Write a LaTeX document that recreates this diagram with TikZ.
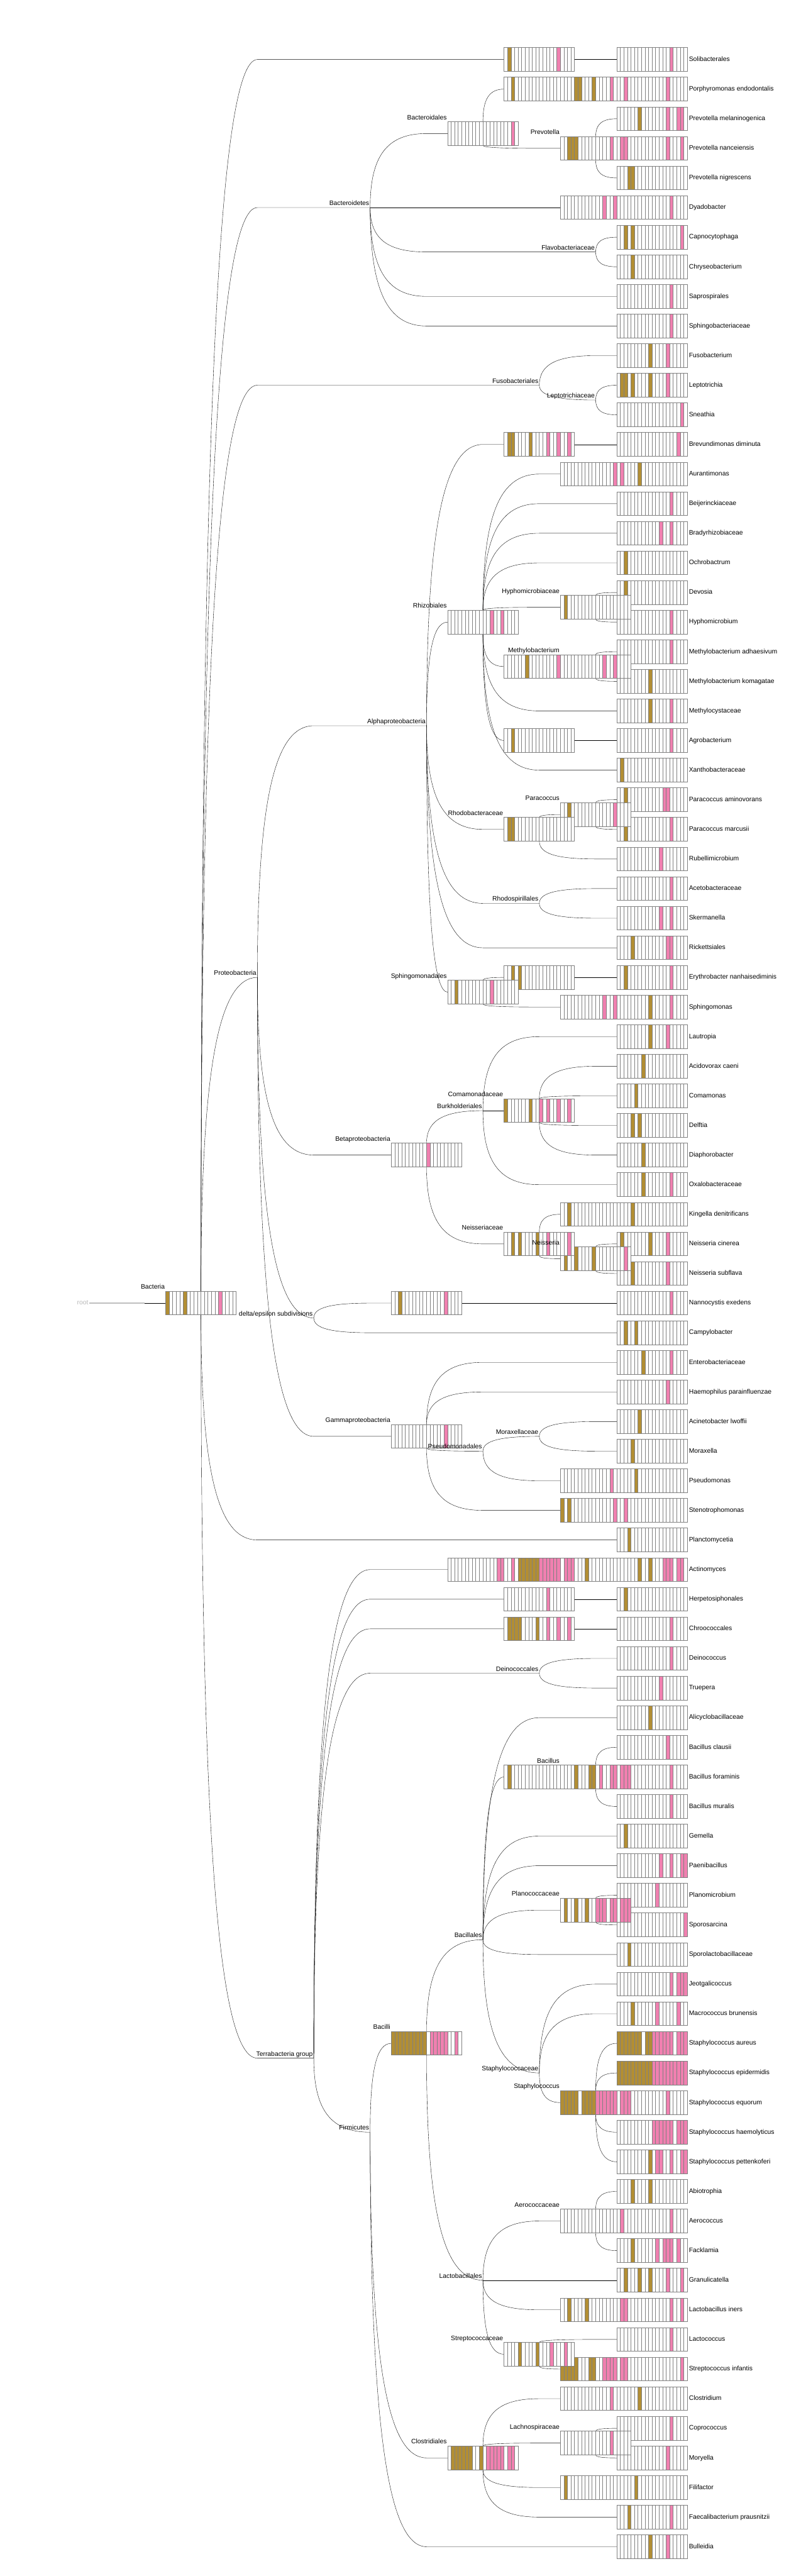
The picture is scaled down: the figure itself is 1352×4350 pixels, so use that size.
\documentclass[tikz,border=0pt]{standalone}
\usepackage{fontspec}
\setmainfont{Liberation Sans}
\usepackage{xcolor}
\definecolor{gd}{RGB}{178,142,52}
\definecolor{pk}{RGB}{240,128,176}
\definecolor{boxgray}{RGB}{128,128,128}
\usepackage{tikz}
\usetikzlibrary{calc,backgrounds}
\newcommand{\hmcells}{white/0}

\begin{document}
\begin{tikzpicture}[
    x=1pt, y=-1pt,
    font=\fontsize{11}{13}\selectfont,
    lbl/.style={inner sep=1.5pt, text height=8pt, text depth=2pt},
    tiplbl/.style={inner sep=2.5pt, text height=8pt, text depth=2pt},
    cells/.code={\def\hmcells{#1}},
    hm/.style={draw=boxgray, line width=0.9pt, fill=white, minimum width=119.06pt, minimum height=40pt, inner sep=0pt, outer sep=0pt,
      path picture={
        \foreach \c/\k in \hmcells {\fill[fill=\c] ([xshift=\k*5.953pt]path picture bounding box.north west) rectangle ++(5.953pt,-40pt);}
        \foreach \k in {1,...,19} {\draw[boxgray, line width=0.9pt] ([xshift=\k*5.953pt]path picture bounding box.north west) -- ++(0pt,-40pt);}
      }},
    clade/.style={to path={let \p1=(\tikztostart), \p2=(\tikztotarget) in .. controls ($(\p1)!0.7!(\x1,\y2)$) and ($(\p2)!0.7!(\x1,\y2)$) .. (\p2)}},
    twig/.style={line width=1.15pt},
    rootline/.style={line width=1.15pt, gray!50},
]
\useasboundingbox (0,0) rectangle (1352,4350);

% level columns
\coordinate (L0) at (244.25,0);
\coordinate (L1) at (339.5,0);
\coordinate (L2) at (434.75,0);
\coordinate (L3) at (530,0);
\coordinate (L4) at (625.25,0);
\coordinate (L5) at (720.5,0);
\coordinate (L6) at (815.75,0);
\coordinate (L7) at (911,0);
\coordinate (L8) at (1006.25,0);
\coordinate (L9) at (1101.5,0);

% tips
\node[hm, cells={pk/15}, label={[tiplbl]east:Solibacterales}] (soli) at (1101.5,100.5) {};
\node[hm, cells={pk/14}, label={[tiplbl]east:Porphyromonas endodontalis}] (porph) at (1101.5,150.5) {};
\node[hm, cells={gd/6,pk/14,pk/17,pk/18}, label={[tiplbl]east:Prevotella melaninogenica}] (prevmel) at (1101.5,200.5) {};
\node[hm, cells={pk/14,pk/18}, label={[tiplbl]east:Prevotella nanceiensis}] (prevnan) at (1101.5,250.5) {};
\node[hm, cells={gd/3,gd/4}, label={[tiplbl]east:Prevotella nigrescens}] (prevnig) at (1101.5,300.5) {};
\node[hm, cells={pk/15}, label={[tiplbl]east:Dyadobacter}] (dyado) at (1101.5,350.5) {};
\node[hm, cells={gd/2,gd/4,pk/18}, label={[tiplbl]east:Capnocytophaga}] (capno) at (1101.5,400.5) {};
\node[hm, cells={gd/4}, label={[tiplbl]east:Chryseobacterium}] (chryseo) at (1101.5,450.5) {};
\node[hm, cells={pk/15}, label={[tiplbl]east:Saprospirales}] (sapro) at (1101.5,500.5) {};
\node[hm, cells={pk/15}, label={[tiplbl]east:Sphingobacteriaceae}] (sphingob) at (1101.5,550.5) {};
\node[hm, cells={gd/9,pk/14}, label={[tiplbl]east:Fusobacterium}] (fusob) at (1101.5,600.5) {};
\node[hm, cells={gd/1,gd/2,gd/4,gd/9,pk/14}, label={[tiplbl]east:Leptotrichia}] (lepto) at (1101.5,650.5) {};
\node[hm, cells={pk/18}, label={[tiplbl]east:Sneathia}] (sneath) at (1101.5,700.5) {};
\node[hm, cells={pk/17}, label={[tiplbl]east:Brevundimonas diminuta}] (brevund) at (1101.5,750.5) {};
\node[hm, cells={gd/6}, label={[tiplbl]east:Aurantimonas}] (auranti) at (1101.5,800.5) {};
\node[hm, cells={pk/15}, label={[tiplbl]east:Beijerinckiaceae}] (beijer) at (1101.5,850.5) {};
\node[hm, cells={pk/12,pk/15}, label={[tiplbl]east:Bradyrhizobiaceae}] (bradyr) at (1101.5,900.5) {};
\node[hm, cells={gd/2}, label={[tiplbl]east:Ochrobactrum}] (ochro) at (1101.5,950.5) {};
\node[hm, cells={gd/2}, label={[tiplbl]east:Devosia}] (devosia) at (1101.5,1000.5) {};
\node[hm, cells={pk/15}, label={[tiplbl]east:Hyphomicrobium}] (hyphom) at (1101.5,1050.5) {};
\node[hm, cells={pk/15}, label={[tiplbl]east:Methylobacterium adhaesivum}] (methad) at (1101.5,1100.5) {};
\node[hm, cells={gd/9}, label={[tiplbl]east:Methylobacterium komagatae}] (methkom) at (1101.5,1150.5) {};
\node[hm, cells={gd/9,pk/15}, label={[tiplbl]east:Methylocystaceae}] (methcys) at (1101.5,1200.5) {};
\node[hm, cells={pk/15}, label={[tiplbl]east:Agrobacterium}] (agrob) at (1101.5,1250.5) {};
\node[hm, cells={gd/1}, label={[tiplbl]east:Xanthobacteraceae}] (xantho) at (1101.5,1300.5) {};
\node[hm, cells={gd/2,pk/13,pk/14}, label={[tiplbl]east:Paracoccus aminovorans}] (paraam) at (1101.5,1350.5) {};
\node[hm, cells={gd/2,pk/15}, label={[tiplbl]east:Paracoccus marcusii}] (paramar) at (1101.5,1400.5) {};
\node[hm, cells={pk/12}, label={[tiplbl]east:Rubellimicrobium}] (rubell) at (1101.5,1450.5) {};
\node[hm, cells={pk/15}, label={[tiplbl]east:Acetobacteraceae}] (aceto) at (1101.5,1500.5) {};
\node[hm, cells={pk/12,pk/15}, label={[tiplbl]east:Skermanella}] (skerm) at (1101.5,1550.5) {};
\node[hm, cells={gd/4,pk/14,pk/15}, label={[tiplbl]east:Rickettsiales}] (ricket) at (1101.5,1600.5) {};
\node[hm, cells={gd/2,pk/15}, label={[tiplbl]east:Erythrobacter nanhaisediminis}] (erythro) at (1101.5,1650.5) {};
\node[hm, cells={gd/9,pk/15}, label={[tiplbl]east:Sphingomonas}] (sphingom) at (1101.5,1700.5) {};
\node[hm, cells={gd/9,pk/14}, label={[tiplbl]east:Lautropia}] (lautro) at (1101.5,1750.5) {};
\node[hm, cells={gd/7}, label={[tiplbl]east:Acidovorax caeni}] (acidov) at (1101.5,1800.5) {};
\node[hm, cells={gd/5}, label={[tiplbl]east:Comamonas}] (comam) at (1101.5,1850.5) {};
\node[hm, cells={gd/4,gd/6}, label={[tiplbl]east:Delftia}] (delftia) at (1101.5,1900.5) {};
\node[hm, cells={gd/7}, label={[tiplbl]east:Diaphorobacter}] (diaph) at (1101.5,1950.5) {};
\node[hm, cells={gd/7,pk/15}, label={[tiplbl]east:Oxalobacteraceae}] (oxalo) at (1101.5,2000.5) {};
\node[hm, cells={gd/4}, label={[tiplbl]east:Kingella denitrificans}] (kingella) at (1101.5,2050.5) {};
\node[hm, cells={gd/1,gd/9,pk/14}, label={[tiplbl]east:Neisseria cinerea}] (neiscin) at (1101.5,2100.5) {};
\node[hm, cells={gd/4,pk/14}, label={[tiplbl]east:Neisseria subflava}] (neissub) at (1101.5,2150.5) {};
\node[hm, cells={pk/15}, label={[tiplbl]east:Nannocystis exedens}] (nanno) at (1101.5,2200.5) {};
\node[hm, cells={gd/2,gd/5}, label={[tiplbl]east:Campylobacter}] (campy) at (1101.5,2250.5) {};
\node[hm, cells={gd/7,pk/15}, label={[tiplbl]east:Enterobacteriaceae}] (entero) at (1101.5,2300.5) {};
\node[hm, cells={pk/14}, label={[tiplbl]east:Haemophilus parainfluenzae}] (haemo) at (1101.5,2350.5) {};
\node[hm, cells={gd/6}, label={[tiplbl]east:Acinetobacter lwoffii}] (acinet) at (1101.5,2400.5) {};
\node[hm, cells={gd/4}, label={[tiplbl]east:Moraxella}] (moraxella) at (1101.5,2450.5) {};
\node[hm, cells={gd/5}, label={[tiplbl]east:Pseudomonas}] (pseudom) at (1101.5,2500.5) {};
\node[hm, cells={white/0}, label={[tiplbl]east:Stenotrophomonas}] (stenotr) at (1101.5,2550.5) {};
\node[hm, cells={gd/3}, label={[tiplbl]east:Planctomycetia}] (plancto) at (1101.5,2600.5) {};
\node[hm, cells={gd/6,gd/9,pk/13,pk/14,pk/15,pk/17,pk/18}, label={[tiplbl]east:Actinomyces}] (actino) at (1101.5,2650.5) {};
\node[hm, cells={gd/2}, label={[tiplbl]east:Herpetosiphonales}] (herpeto) at (1101.5,2700.5) {};
\node[hm, cells={pk/15}, label={[tiplbl]east:Chroococcales}] (chrooc) at (1101.5,2750.5) {};
\node[hm, cells={pk/15}, label={[tiplbl]east:Deinococcus}] (deinoc) at (1101.5,2800.5) {};
\node[hm, cells={pk/12}, label={[tiplbl]east:Truepera}] (truep) at (1101.5,2850.5) {};
\node[hm, cells={gd/9}, label={[tiplbl]east:Alicyclobacillaceae}] (alicyc) at (1101.5,2900.5) {};
\node[hm, cells={pk/14}, label={[tiplbl]east:Bacillus clausii}] (bacclau) at (1101.5,2950.5) {};
\node[hm, cells={pk/15}, label={[tiplbl]east:Bacillus foraminis}] (bacfor) at (1101.5,3000.5) {};
\node[hm, cells={pk/15}, label={[tiplbl]east:Bacillus muralis}] (bacmur) at (1101.5,3050.5) {};
\node[hm, cells={gd/2}, label={[tiplbl]east:Gemella}] (gemella) at (1101.5,3100.5) {};
\node[hm, cells={pk/12,pk/15,pk/18,pk/19}, label={[tiplbl]east:Paenibacillus}] (paeni) at (1101.5,3150.5) {};
\node[hm, cells={pk/11}, label={[tiplbl]east:Planomicrobium}] (planom) at (1101.5,3200.5) {};
\node[hm, cells={pk/19}, label={[tiplbl]east:Sporosarcina}] (sporos) at (1101.5,3250.5) {};
\node[hm, cells={gd/3}, label={[tiplbl]east:Sporolactobacillaceae}] (sporol) at (1101.5,3300.5) {};
\node[hm, cells={pk/15,pk/17,pk/18,pk/19}, label={[tiplbl]east:Jeotgalicoccus}] (jeotg) at (1101.5,3350.5) {};
\node[hm, cells={gd/4,pk/11,pk/17}, label={[tiplbl]east:Macrococcus brunensis}] (macroc) at (1101.5,3400.5) {};
\node[hm, cells={gd/0,gd/1,gd/2,gd/3,gd/4,gd/5,gd/6,gd/8,gd/9,pk/10,pk/11,pk/12,pk/13,pk/14,pk/15,pk/17,pk/18,pk/19}, label={[tiplbl]east:Staphylococcus aureus}] (staphau) at (1101.5,3450.5) {};
\node[hm, cells={gd/0,gd/1,gd/2,gd/3,gd/4,gd/5,gd/6,gd/7,gd/8,gd/9,pk/10,pk/11,pk/12,pk/13,pk/14,pk/15,pk/16,pk/17,pk/18,pk/19}, label={[tiplbl]east:Staphylococcus epidermidis}] (staphep) at (1101.5,3500.5) {};
\node[hm, cells={pk/14}, label={[tiplbl]east:Staphylococcus equorum}] (staphequ) at (1101.5,3550.5) {};
\node[hm, cells={pk/10,pk/11,pk/12,pk/13,pk/14,pk/15,pk/17,pk/18,pk/19}, label={[tiplbl]east:Staphylococcus haemolyticus}] (staphhae) at (1101.5,3600.5) {};
\node[hm, cells={gd/9,pk/11,pk/12,pk/15,pk/18,pk/19}, label={[tiplbl]east:Staphylococcus pettenkoferi}] (staphpet) at (1101.5,3650.5) {};
\node[hm, cells={gd/4,gd/9}, label={[tiplbl]east:Abiotrophia}] (abiot) at (1101.5,3700.5) {};
\node[hm, cells={pk/15}, label={[tiplbl]east:Aerococcus}] (aeroc) at (1101.5,3750.5) {};
\node[hm, cells={gd/4,pk/11,pk/13,pk/14,pk/15,pk/17}, label={[tiplbl]east:Facklamia}] (facklamia) at (1101.5,3800.5) {};
\node[hm, cells={gd/2,gd/6,gd/9,pk/14,pk/18}, label={[tiplbl]east:Granulicatella}] (granul) at (1101.5,3850.5) {};
\node[hm, cells={pk/15,pk/18}, label={[tiplbl]east:Lactobacillus iners}] (lactob) at (1101.5,3900.5) {};
\node[hm, cells={pk/15}, label={[tiplbl]east:Lactococcus}] (lactoc) at (1101.5,3950.5) {};
\node[hm, cells={pk/18}, label={[tiplbl]east:Streptococcus infantis}] (streptinf) at (1101.5,4000.5) {};
\node[hm, cells={gd/6}, label={[tiplbl]east:Clostridium}] (clostr) at (1101.5,4050.5) {};
\node[hm, cells={pk/15}, label={[tiplbl]east:Coprococcus}] (coproc) at (1101.5,4100.5) {};
\node[hm, cells={pk/14}, label={[tiplbl]east:Moryella}] (moryella) at (1101.5,4150.5) {};
\node[hm, cells={gd/5}, label={[tiplbl]east:Filifactor}] (filifac) at (1101.5,4200.5) {};
\node[hm, cells={gd/3,pk/15}, label={[tiplbl]east:Faecalibacterium prausnitzii}] (faecal) at (1101.5,4250.5) {};
\node[hm, cells={gd/9,pk/14}, label={[tiplbl]east:Bulleidia}] (bulleid) at (1101.5,4300.5) {};

% genus level boxes
\node[hm, cells={gd/4,gd/5,gd/9,pk/14,pk/18}] (porph8) at (1006.25,150.5) {};
\node[hm, cells={gd/2,gd/3,gd/4,pk/14,pk/17,pk/18}] (prevotella) at (1006.25,250.5) {};
\node[hm, cells={pk/12,pk/15}] (dyado8) at (1006.25,350.5) {};
\node[hm, cells={pk/15,pk/17}] (auranti8) at (1006.25,800.5) {};
\node[hm, cells={gd/1}] (hyphomicrobiaceae) at (1006.25,1025.5) {};
\node[hm, cells={pk/12,pk/15}] (methylobacterium) at (1006.25,1125.5) {};
\node[hm, cells={gd/2,pk/15}] (paracoccus) at (1006.25,1375.5) {};
\node[hm, cells={pk/12,pk/15}] (sphingom8) at (1006.25,1700.5) {};
\node[hm, cells={gd/2}] (kingella8) at (1006.25,2050.5) {};
\node[hm, cells={gd/1,gd/4,gd/9,pk/18}] (neisseria) at (1006.25,2125.5) {};
\node[hm, cells={pk/14}] (pseudom8) at (1006.25,2500.5) {};
\node[hm, cells={gd/0,gd/2,pk/15,pk/18}] (stenotr8) at (1006.25,2550.5) {};
\node[hm, cells={gd/7}] (actino8) at (1006.25,2650.5) {};
\node[hm, cells={gd/4,gd/8,gd/9,pk/11,pk/14,pk/15,pk/17,pk/18,pk/19}] (bacillus) at (1006.25,3000.5) {};
\node[hm, cells={gd/1,gd/4,gd/7,pk/10,pk/11,pk/12,pk/14,pk/15,pk/17,pk/18,pk/19}] (planococcaceae) at (1006.25,3225.5) {};
\node[hm, cells={gd/0,gd/1,gd/2,gd/3,gd/4,gd/6,gd/7,gd/8,gd/9,pk/10,pk/11,pk/12,pk/13,pk/14,pk/15,pk/17,pk/18,pk/19}] (staphylococcus) at (1006.25,3550.5) {};
\node[hm, cells={pk/17}] (aerococcaceae) at (1006.25,3750.5) {};
\node[hm, cells={gd/2,gd/7,pk/17,pk/18}] (lactob8) at (1006.25,3900.5) {};
\node[hm, cells={gd/0,gd/1,gd/2,gd/3,gd/4,gd/8,gd/9,pk/12,pk/13,pk/14,pk/15,pk/17,pk/18}] (strept8) at (1006.25,4000.5) {};
\node[hm, cells={pk/14}] (clostr8) at (1006.25,4050.5) {};
\node[hm, cells={pk/14}] (lachnospiraceae) at (1006.25,4125.5) {};
\node[hm, cells={gd/1}] (filifac8) at (1006.25,4200.5) {};

% family level boxes
\node[hm, cells={gd/1,pk/15}] (soli7) at (911,100.5) {};
\node[hm, cells={gd/2}] (porph7) at (911,150.5) {};
\node[hm, cells={gd/1,gd/2,gd/7,pk/12,pk/15,pk/18}] (brevund7) at (911,750.5) {};
\node[hm, cells={gd/6,pk/15}] (methylobacteriaceae) at (911,1125.5) {};
\node[hm, cells={gd/2}] (agrob7) at (911,1250.5) {};
\node[hm, cells={gd/1,gd/2}] (rhodobacteraceae) at (911,1400.5) {};
\node[hm, cells={gd/2,gd/4}] (erythro7) at (911,1650.5) {};
\node[hm, cells={gd/0,gd/7,pk/10,pk/12,pk/15,pk/18}] (comamonadaceae) at (911,1875.5) {};
\node[hm, cells={gd/2,gd/4,gd/9,pk/12,pk/18}] (neisseriaceae) at (911,2100.5) {};
\node[hm, cells={gd/4,gd/5,gd/6,gd/7,gd/8,gd/9,pk/10,pk/11,pk/12,pk/13,pk/14,pk/15,pk/17,pk/18,pk/19}] (actino7) at (911,2650.5) {};
\node[hm, cells={pk/12}] (herpeto7) at (911,2700.5) {};
\node[hm, cells={gd/1,gd/2,gd/3,gd/4,gd/9,pk/12,pk/15,pk/18}] (chrooc7) at (911,2750.5) {};
\node[hm, cells={gd/1}] (bacillaceae) at (911,3000.5) {};
\node[hm, cells={gd/4,gd/9,pk/13,pk/17}] (streptococcaceae) at (911,3975.5) {};

% order level boxes
\node[hm, cells={pk/18}] (bacteroidales) at (815.75,225.5) {};
\node[hm, cells={pk/12,pk/15}] (rhizobiales) at (815.75,1050.5) {};
\node[hm, cells={gd/2,pk/12}] (sphingomonadales) at (815.75,1675.5) {};
\node[hm, cells={pk/14,pk/15,pk/18}] (actino6) at (815.75,2650.5) {};
\node[hm, cells={gd/1,gd/2,gd/3,gd/4,gd/5,gd/6,gd/9,pk/11,pk/12,pk/13,pk/14,pk/15,pk/17,pk/18}] (clostridiales) at (815.75,4150.5) {};

% class level boxes
\node[hm, cells={pk/10}] (betaproteo) at (720.5,1950.5) {};
\node[hm, cells={gd/2,pk/15}] (nanno5) at (720.5,2200.5) {};
\node[hm, cells={pk/15}] (gammaproteo) at (720.5,2425.5) {};
\node[hm, cells={gd/0,gd/1,gd/2,gd/3,gd/4,gd/5,gd/6,gd/7,gd/8,gd/9,pk/11,pk/12,pk/13,pk/14,pk/15,pk/18}] (bacilli) at (720.5,3450.5) {};

% top box
\node[hm, cells={gd/0,gd/5,pk/15}] (bacteria) at (339.5,2200.5) {};

% branch points without box
\coordinate (root) at (151,2200.5);
\coordinate (bacteroidetes) at (625.25,350.5);
\coordinate (flavobacteriaceae) at (1006.25,425.5);
\coordinate (fusobacteriales) at (911,650.5);
\coordinate (leptotrichiaceae) at (1006.25,675.5);
\coordinate (proteobacteria) at (434.75,1650.5);
\coordinate (alphaproteo) at (720.5,1225.5);
\coordinate (rhodospirillales) at (911,1525.5);
\coordinate (burkholderiales) at (815.75,1875.5);
\coordinate (deltaeps) at (530,2225.5);
\coordinate (pseudomonadales) at (815.75,2450.5);
\coordinate (moraxellaceae) at (911,2425.5);
\coordinate (terrabacteria) at (530,3475.5);
\coordinate (deinococcales) at (911,2825.5);
\coordinate (firmicutes) at (625.25,3600.5);
\coordinate (bacillales) at (815.75,3275.5);
\coordinate (staphylococcaceae) at (911,3500.5);
\coordinate (lactobacillales) at (815.75,3850.5);

\begin{scope}[on background layer, twig]
% root and Bacteria
\draw[rootline] (root) -- (L0 |- root);
\draw (L0 |- root) -- (bacteria.west);
\draw (bacteria.north) to[clade] (L2 |- soli7.west) -- (soli7.west);
\draw (soli7.east) -- (soli.west);
\draw (bacteria.north) to[clade] (L2 |- bacteroidetes) -- (bacteroidetes);
\draw (bacteria.north) to[clade] (L2 |- fusobacteriales) -- (fusobacteriales);
\draw (bacteria.north) to[clade] (proteobacteria);
\draw (bacteria.south) to[clade] (L2 |- plancto.west) -- (plancto.west);
\draw (bacteria.south) to[clade] (L2 |- terrabacteria) -- (terrabacteria);

% Bacteroidetes
\draw (bacteroidetes) to[clade] (L5 |- bacteroidales.west) -- (bacteroidales.west);
\draw (bacteroidetes) -- (dyado8.west);
\draw (bacteroidetes) to[clade] (L5 |- flavobacteriaceae) -- (flavobacteriaceae);
\draw (bacteroidetes) to[clade] (L5 |- sapro.west) -- (sapro.west);
\draw (bacteroidetes) to[clade] (L5 |- sphingob.west) -- (sphingob.west);
\draw (bacteroidales.north) to[clade] (porph7.west);
\draw (bacteroidales.south) to[clade] (L7 |- prevotella.west) -- (prevotella.west);
\draw (prevotella.north) to[clade] (prevmel.west);
\draw (prevotella.south) to[clade] (prevnig.west);
\draw (flavobacteriaceae) to[clade] (capno.west);
\draw (flavobacteriaceae) to[clade] (chryseo.west);

% Fusobacteriales
\draw (fusobacteriales) to[clade] (L8 |- fusob.west) -- (fusob.west);
\draw (fusobacteriales) to[clade] (leptotrichiaceae);
\draw (leptotrichiaceae) to[clade] (lepto.west);
\draw (leptotrichiaceae) to[clade] (sneath.west);

% Proteobacteria
\draw (proteobacteria) to[clade] (L3 |- alphaproteo) -- (alphaproteo);
\draw (proteobacteria) to[clade] (L3 |- betaproteo.west) -- (betaproteo.west);
\draw (proteobacteria) to[clade] (deltaeps);
\draw (proteobacteria) to[clade] (L3 |- gammaproteo.west) -- (gammaproteo.west);

% Alphaproteobacteria
\draw (alphaproteo) to[clade] (L6 |- brevund7.west) -- (brevund7.west);
\draw (brevund7.east) -- (brevund.west);
\draw (alphaproteo) to[clade] (rhizobiales.west);
\draw (alphaproteo) to[clade] (L6 |- rhodobacteraceae.west) -- (rhodobacteraceae.west);
\draw (alphaproteo) to[clade] (L6 |- rhodospirillales) -- (rhodospirillales);
\draw (alphaproteo) to[clade] (L6 |- ricket.west) -- (ricket.west);
\draw (alphaproteo) to[clade] (sphingomonadales.west);
\draw (rhizobiales.north) to[clade] (L7 |- auranti8.west) -- (auranti8.west);
\draw (rhizobiales.north) to[clade] (L7 |- beijer.west) -- (beijer.west);
\draw (rhizobiales.north) to[clade] (L7 |- bradyr.west) -- (bradyr.west);
\draw (rhizobiales.north) to[clade] (L7 |- ochro.west) -- (ochro.west);
\draw (rhizobiales.north) to[clade] (L7 |- hyphomicrobiaceae.west) -- (hyphomicrobiaceae.west);
\draw (rhizobiales.south) to[clade] (methylobacteriaceae.west);
\draw (rhizobiales.south) to[clade] (L7 |- methcys.west) -- (methcys.west);
\draw (rhizobiales.south) to[clade] (agrob7.west);
\draw (agrob7.east) -- (agrob.west);
\draw (rhizobiales.south) to[clade] (L7 |- xantho.west) -- (xantho.west);
\draw (hyphomicrobiaceae.north) to[clade] (devosia.west);
\draw (hyphomicrobiaceae.south) to[clade] (hyphom.west);
\draw (methylobacterium.north) to[clade] (methad.west);
\draw (methylobacterium.south) to[clade] (methkom.west);
\draw (rhodobacteraceae.north) to[clade] (paracoccus.west);
\draw (rhodobacteraceae.south) to[clade] (L8 |- rubell.west) -- (rubell.west);
\draw (paracoccus.north) to[clade] (paraam.west);
\draw (paracoccus.south) to[clade] (paramar.west);
\draw (rhodospirillales) to[clade] (L8 |- aceto.west) -- (aceto.west);
\draw (rhodospirillales) to[clade] (L8 |- skerm.west) -- (skerm.west);
\draw (sphingomonadales.north) to[clade] (erythro7.west);
\draw (erythro7.east) -- (erythro.west);
\draw (sphingomonadales.south) to[clade] (L7 |- sphingom8.west) -- (sphingom8.west);

% Betaproteobacteria
\draw (betaproteo.north) to[clade] (burkholderiales);
\draw (betaproteo.south) to[clade] (L6 |- neisseriaceae.west) -- (neisseriaceae.west);
\draw (burkholderiales) to[clade] (L7 |- lautro.west) -- (lautro.west);
\draw (burkholderiales) -- (comamonadaceae.west);
\draw (burkholderiales) to[clade] (L7 |- oxalo.west) -- (oxalo.west);
\draw (comamonadaceae.north) to[clade] (L8 |- acidov.west) -- (acidov.west);
\draw (comamonadaceae.north) to[clade] (L8 |- comam.west) -- (comam.west);
\draw (comamonadaceae.south) to[clade] (L8 |- delftia.west) -- (delftia.west);
\draw (comamonadaceae.south) to[clade] (L8 |- diaph.west) -- (diaph.west);
\draw (neisseriaceae.north) to[clade] (kingella8.west);
\draw (neisseriaceae.south) to[clade] (neisseria.west);
\draw (neisseria.north) to[clade] (neiscin.west);
\draw (neisseria.south) to[clade] (neissub.west);

% delta/epsilon
\draw (deltaeps) to[clade] (L4 |- nanno5.west) -- (nanno5.west);
\draw (nanno5.east) -- (nanno.west);
\draw (deltaeps) to[clade] (L4 |- campy.west) -- (campy.west);

% Gammaproteobacteria
\draw (gammaproteo.north) to[clade] (L6 |- entero.west) -- (entero.west);
\draw (gammaproteo.north) to[clade] (L6 |- haemo.west) -- (haemo.west);
\draw (gammaproteo.south) to[clade] (pseudomonadales);
\draw (gammaproteo.south) to[clade] (L6 |- stenotr8.west) -- (stenotr8.west);
\draw (pseudomonadales) to[clade] (moraxellaceae);
\draw (pseudomonadales) to[clade] (L7 |- pseudom8.west) -- (pseudom8.west);
\draw (moraxellaceae) to[clade] (L8 |- acinet.west) -- (acinet.west);
\draw (moraxellaceae) to[clade] (L8 |- moraxella.west) -- (moraxella.west);

% Terrabacteria group
\draw (terrabacteria) to[clade] (L4 |- actino6.west) -- (actino6.west);
\draw (terrabacteria) to[clade] (L4 |- herpeto7.west) -- (herpeto7.west);
\draw (herpeto7.east) -- (herpeto.west);
\draw (terrabacteria) to[clade] (L4 |- chrooc7.west) -- (chrooc7.west);
\draw (chrooc7.east) -- (chrooc.west);
\draw (terrabacteria) to[clade] (L4 |- deinococcales) -- (deinococcales);
\draw (terrabacteria) to[clade] (firmicutes);
\draw (deinococcales) to[clade] (L8 |- deinoc.west) -- (deinoc.west);
\draw (deinococcales) to[clade] (L8 |- truep.west) -- (truep.west);

% Firmicutes
\draw (firmicutes) to[clade] (bacilli.west);
\draw (firmicutes) to[clade] (L5 |- clostridiales.west) -- (clostridiales.west);
\draw (firmicutes) to[clade] (L5 |- bulleid.west) -- (bulleid.west);
\draw (bacilli.north) to[clade] (bacillales);
\draw (bacilli.south) to[clade] (lactobacillales);

% Bacillales
\draw (bacillales) to[clade] (L7 |- alicyc.west) -- (alicyc.west);
\draw (bacillales) to[clade] (bacillaceae.west);
\draw (bacillales) to[clade] (L7 |- gemella.west) -- (gemella.west);
\draw (bacillales) to[clade] (L7 |- paeni.west) -- (paeni.west);
\draw (bacillales) to[clade] (L7 |- planococcaceae.west) -- (planococcaceae.west);
\draw (bacillales) to[clade] (L7 |- sporol.west) -- (sporol.west);
\draw (bacillales) to[clade] (staphylococcaceae);
\draw (bacillus.north) to[clade] (bacclau.west);
\draw (bacillus.south) to[clade] (bacmur.west);
\draw (planococcaceae.north) to[clade] (planom.west);
\draw (planococcaceae.south) to[clade] (sporos.west);
\draw (staphylococcaceae) to[clade] (L8 |- jeotg.west) -- (jeotg.west);
\draw (staphylococcaceae) to[clade] (L8 |- macroc.west) -- (macroc.west);
\draw (staphylococcaceae) to[clade] (staphylococcus.west);
\draw (staphylococcus.north) to[clade] (staphau.west);
\draw (staphylococcus.north) to[clade] (staphep.west);
\draw (staphylococcus.south) to[clade] (staphhae.west);
\draw (staphylococcus.south) to[clade] (staphpet.west);

% Lactobacillales
\draw (lactobacillales) to[clade] (L7 |- aerococcaceae.west) -- (aerococcaceae.west);
\draw (lactobacillales) -- (granul.west);
\draw (lactobacillales) to[clade] (L7 |- lactob8.west) -- (lactob8.west);
\draw (lactobacillales) to[clade] (streptococcaceae.west);
\draw (aerococcaceae.north) to[clade] (abiot.west);
\draw (aerococcaceae.south) to[clade] (facklamia.west);
\draw (streptococcaceae.north) to[clade] (L8 |- lactoc.west) -- (lactoc.west);
\draw (streptococcaceae.south) to[clade] (strept8.west);

% Clostridiales
\draw (clostridiales.north) to[clade] (L7 |- clostr8.west) -- (clostr8.west);
\draw (clostridiales.north) to[clade] (L7 |- lachnospiraceae.west) -- (lachnospiraceae.west);
\draw (clostridiales.south) to[clade] (L7 |- filifac8.west) -- (filifac8.west);
\draw (clostridiales.south) to[clade] (L7 |- faecal.west) -- (faecal.west);
\draw (lachnospiraceae.north) to[clade] (coproc.west);
\draw (lachnospiraceae.south) to[clade] (moryella.west);
\end{scope}

% labels of inner nodes
\node[lbl, anchor=east, text=gray!55] (lbroot) at (root) {root};
\node[lbl, anchor=south east] (lbbacteria) at (bacteria.north west) {Bacteria};
\node[lbl, anchor=south east] (lbbacteroidetes) at (bacteroidetes) {Bacteroidetes};
\node[lbl, anchor=south east] (lbbacteroidales) at (bacteroidales.north west) {Bacteroidales};
\node[lbl, anchor=south east] (lbprevotella) at (prevotella.north west) {Prevotella};
\node[lbl, anchor=south east] (lbflavo) at (flavobacteriaceae) {Flavobacteriaceae};
\node[lbl, anchor=south east] (lbfuso) at (fusobacteriales) {Fusobacteriales};
\node[lbl, anchor=south east] (lblepto) at (leptotrichiaceae) {Leptotrichiaceae};
\node[lbl, anchor=south east] (lbproteo) at (proteobacteria) {Proteobacteria};
\node[lbl, anchor=south east] (lbalpha) at (alphaproteo) {Alphaproteobacteria};
\node[lbl, anchor=south east] (lbrhizo) at (rhizobiales.north west) {Rhizobiales};
\node[lbl, anchor=south east] (lbhypho) at (hyphomicrobiaceae.north west) {Hyphomicrobiaceae};
\node[lbl, anchor=south east] (lbmethylo) at (methylobacterium.north west) {Methylobacterium};
\node[lbl, anchor=south east] (lbrhodob) at (rhodobacteraceae.north west) {Rhodobacteraceae};
\node[lbl, anchor=south east] (lbparac) at (paracoccus.north west) {Paracoccus};
\node[lbl, anchor=south east] (lbrhodos) at (rhodospirillales) {Rhodospirillales};
\node[lbl, anchor=south east] (lbsphingo) at (sphingomonadales.north west) {Sphingomonadales};
\node[lbl, anchor=south east] (lbbeta) at (betaproteo.north west) {Betaproteobacteria};
\node[lbl, anchor=south east] (lbburk) at (burkholderiales) {Burkholderiales};
\node[lbl, anchor=south east] (lbcomam) at (comamonadaceae.north west) {Comamonadaceae};
\node[lbl, anchor=south east] (lbneissac) at (neisseriaceae.north west) {Neisseriaceae};
\node[lbl, anchor=south east] (lbneiss) at (neisseria.north west) {Neisseria};
\node[lbl, anchor=south east] (lbdelta) at (deltaeps) {delta/epsilon subdivisions};
\node[lbl, anchor=south east] (lbgamma) at (gammaproteo.north west) {Gammaproteobacteria};
\node[lbl, anchor=south east] (lbpseudo) at (pseudomonadales) {Pseudomonadales};
\node[lbl, anchor=south east] (lbmorax) at (moraxellaceae) {Moraxellaceae};
\node[lbl, anchor=south east] (lbterra) at (terrabacteria) {Terrabacteria group};
\node[lbl, anchor=south east] (lbdeino) at (deinococcales) {Deinococcales};
\node[lbl, anchor=south east] (lbfirmi) at (firmicutes) {Firmicutes};
\node[lbl, anchor=south east] (lbbacilli) at (bacilli.north west) {Bacilli};
\node[lbl, anchor=south east] (lbbacillales) at (bacillales) {Bacillales};
\node[lbl, anchor=south east] (lbbacillus) at (bacillus.north west) {Bacillus};
\node[lbl, anchor=south east] (lbplano) at (planococcaceae.north west) {Planococcaceae};
\node[lbl, anchor=south east] (lbstaphac) at (staphylococcaceae) {Staphylococcaceae};
\node[lbl, anchor=south east] (lbstaph) at (staphylococcus.north west) {Staphylococcus};
\node[lbl, anchor=south east] (lblactob) at (lactobacillales) {Lactobacillales};
\node[lbl, anchor=south east] (lbaeroc) at (aerococcaceae.north west) {Aerococcaceae};
\node[lbl, anchor=south east] (lbstrep) at (streptococcaceae.north west) {Streptococcaceae};
\node[lbl, anchor=south east] (lbclostr) at (clostridiales.north west) {Clostridiales};
\node[lbl, anchor=south east] (lblachno) at (lachnospiraceae.north west) {Lachnospiraceae};

\end{tikzpicture}
\end{document}
